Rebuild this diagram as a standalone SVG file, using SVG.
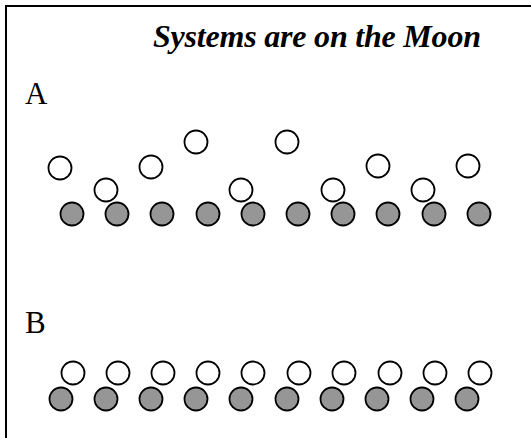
<svg xmlns="http://www.w3.org/2000/svg" width="531" height="438" viewBox="0 0 531 438">
<style>
.t{font-family:"Liberation Serif","Times New Roman",serif;fill:#000}
.w{fill:#fff;stroke:#000;stroke-width:1.8}
.g{fill:#969696;stroke:#000;stroke-width:1.8}
</style>
<rect x="6" y="6" width="560" height="460" fill="#fff" stroke="#000" stroke-width="2"/>
<text class="t" x="153" y="47" font-size="32" font-weight="bold" font-style="italic" textLength="328" lengthAdjust="spacing">Systems are on the Moon</text>
<text class="t" x="25" y="104" font-size="31">A</text>
<text class="t" x="25" y="333" font-size="31">B</text>
<g id="rowA">
<circle class="g" cx="72" cy="214" r="11.5"/>
<circle class="g" cx="117" cy="214" r="11.5"/>
<circle class="g" cx="162" cy="214" r="11.5"/>
<circle class="g" cx="208" cy="214" r="11.5"/>
<circle class="g" cx="253" cy="214" r="11.5"/>
<circle class="g" cx="298" cy="214" r="11.5"/>
<circle class="g" cx="343" cy="214" r="11.5"/>
<circle class="g" cx="388" cy="214" r="11.5"/>
<circle class="g" cx="434" cy="214" r="11.5"/>
<circle class="g" cx="479" cy="214" r="11.5"/>
<circle class="w" cx="60" cy="168" r="11.5"/>
<circle class="w" cx="106" cy="190" r="11.5"/>
<circle class="w" cx="151" cy="167" r="11.5"/>
<circle class="w" cx="196" cy="142" r="11.5"/>
<circle class="w" cx="241" cy="190" r="11.5"/>
<circle class="w" cx="287" cy="142" r="11.5"/>
<circle class="w" cx="333" cy="190" r="11.5"/>
<circle class="w" cx="378" cy="166" r="11.5"/>
<circle class="w" cx="423" cy="190" r="11.5"/>
<circle class="w" cx="468" cy="166" r="11.5"/>
</g>
<g id="rowB">
<circle class="g" cx="61" cy="399" r="11.5"/>
<circle class="g" cx="106" cy="399" r="11.5"/>
<circle class="g" cx="151" cy="399" r="11.5"/>
<circle class="g" cx="196" cy="399" r="11.5"/>
<circle class="g" cx="241" cy="399" r="11.5"/>
<circle class="g" cx="287" cy="399" r="11.5"/>
<circle class="g" cx="332" cy="399" r="11.5"/>
<circle class="g" cx="377" cy="399" r="11.5"/>
<circle class="g" cx="422" cy="399" r="11.5"/>
<circle class="g" cx="467" cy="399" r="11.5"/>
<circle class="w" cx="73" cy="373" r="11.5"/>
<circle class="w" cx="118" cy="373" r="11.5"/>
<circle class="w" cx="163" cy="373" r="11.5"/>
<circle class="w" cx="208" cy="373" r="11.5"/>
<circle class="w" cx="253" cy="373" r="11.5"/>
<circle class="w" cx="299" cy="373" r="11.5"/>
<circle class="w" cx="344" cy="373" r="11.5"/>
<circle class="w" cx="390" cy="373" r="11.5"/>
<circle class="w" cx="435" cy="373" r="11.5"/>
<circle class="w" cx="480" cy="373" r="11.5"/>
</g>
</svg>
